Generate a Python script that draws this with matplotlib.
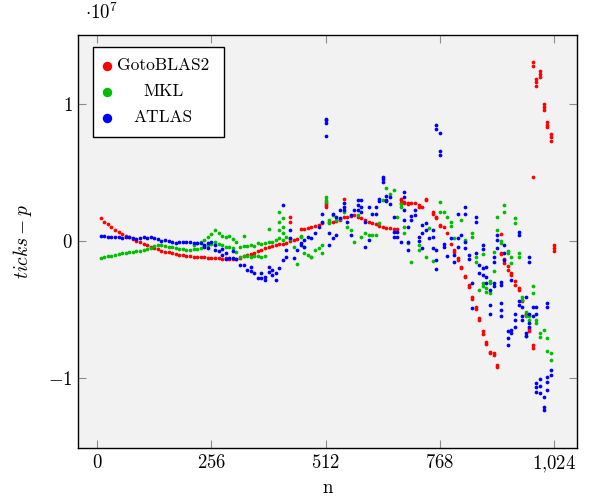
import matplotlib
matplotlib.use("Agg")
import matplotlib.pyplot as plt
from matplotlib.patches import Rectangle

# Kernel timing deviation (ticks - p), in units of 1e7, for each BLAS library
goto_n = [
    8, 16, 24, 32, 40, 48, 56, 64, 72, 80, 88, 96, 104, 112, 120, 128,
    136, 144, 152, 160, 168, 176, 184, 192, 200, 208, 216, 224, 232, 240, 248, 256,
    264, 272, 280, 288, 296, 304, 312, 320, 328, 336, 344, 352, 360, 368, 376, 384,
    392, 400, 408, 416, 424, 432, 432, 432, 440, 448,
    456, 464, 472, 480, 488, 496, 504, 512, 512, 512,
    520, 528, 536, 544, 552, 552, 560, 568, 576, 584, 592, 600, 608, 616, 624, 632,
    640, 648, 656, 664, 672, 680, 680, 680, 688, 688, 696, 696, 704, 712, 720, 720, 728, 736, 736,
    752, 752, 760, 760, 768, 768, 776, 784, 792, 800, 800, 808, 808, 816, 816, 824, 824,
    832, 832, 840, 840, 848, 848, 856, 856, 864, 864, 872, 872, 880, 880, 888, 888, 896, 896,
    904, 904, 904, 912, 912, 920, 920, 928, 928, 936, 936, 944, 944, 952, 952, 960, 960,
    968, 968, 976, 976, 976, 976, 976, 984, 984, 984, 992, 992, 992, 1000, 1000, 1000,
    1008, 1008, 1008, 1016, 1016, 1016, 1024, 1024, 1024,
]
goto_y = [
    0.166, 0.141, 0.122, 0.102, 0.083, 0.063, 0.051, 0.036, 0.027, 0.012, 0.002, -0.010, -0.022, -0.029, -0.041, -0.053,
    -0.061, -0.071, -0.078, -0.083, -0.090, -0.095, -0.100, -0.104, -0.107, -0.110, -0.115, -0.116, -0.119, -0.120, -0.122, -0.124,
    -0.125, -0.127, -0.128, -0.127, -0.129, -0.130, -0.128, -0.124, -0.112, -0.100, -0.092, -0.085, -0.074, -0.062, -0.050, -0.041,
    -0.036, -0.029, -0.024, -0.020, -0.012, -0.003, 0.175, 0.140, 0.004, 0.015,
    0.090, 0.086, 0.097, 0.104, 0.109, 0.117, 0.129, 0.245, 0.265, 0.280,
    0.141, 0.136, 0.146, 0.153, 0.178, 0.310, 0.173, 0.182, 0.190, 0.178, 0.166, 0.153, 0.141, 0.134, 0.124, 0.109,
    0.100, 0.093, 0.093, 0.085, 0.090, 0.280, 0.300, 0.310, 0.285, 0.275, 0.280, 0.270, 0.280, 0.280, 0.260, 0.250, 0.250, 0.310, 0.300,
    0.210, 0.200, 0.175, 0.165, 0.120, 0.110, 0.100, 0.060, -0.020, -0.066, -0.080, -0.127, -0.140, -0.187, -0.200, -0.253, -0.265,
    -0.320, -0.335, -0.410, -0.425, -0.480, -0.495, -0.560, -0.575, -0.660, -0.680, -0.735, -0.750, -0.810, -0.820, -0.815, -0.830, -0.920, -0.905,
    0.050, -0.085, -0.095, -0.130, -0.160, -0.180, -0.210, -0.230, -0.250, -0.290, -0.320, -0.340, -0.360, -0.440, -0.430, -0.540, -0.530,
    -0.660, -0.640, -0.760, -0.780, 1.310, 1.280, 0.470, 1.160, 1.130, 1.180, 1.220, 1.200, 1.240, 0.980, 0.960, 1.000,
    0.850, 0.830, 0.870, 0.760, 0.730, 0.780, -0.050, -0.030, -0.070,
]

mkl_n = [
    8, 16, 24, 32, 40, 48, 56, 64, 72, 80, 88, 96, 104, 112, 120, 128,
    136, 144, 152, 160, 168, 176, 184, 192, 200, 208, 216, 216, 224, 224, 232, 232, 240, 240,
    248, 248, 256, 256, 264, 264, 272, 272, 280, 280, 288, 288, 296, 296, 304, 304, 312, 312,
    320, 320, 328, 328, 328, 336, 336, 344, 344, 352, 352, 360, 360, 368, 368, 376, 376,
    384, 384, 392, 400, 408, 408, 408, 408, 416, 416, 416, 416, 424, 432, 440, 448,
    456, 456, 464, 464, 472, 480, 480, 488, 496, 504, 504, 512, 512, 512,
    520, 520, 528, 536, 544, 552, 560, 568, 576, 584, 592, 600, 608, 616, 624, 632,
    640, 648, 656, 664, 672, 680, 680, 688, 688, 696, 704, 720, 720, 736, 744,
    752, 768, 768, 776, 784, 792, 792, 800, 816, 824, 840, 840, 848, 848, 856,
    864, 864, 864, 872, 872, 880, 880, 880, 888, 888, 896, 896, 904, 904, 912, 912,
    920, 920, 928, 928, 936, 936, 944, 944, 952, 952, 960, 960, 960, 968, 968,
    976, 976, 984, 984, 992, 992, 1000, 1008, 1008, 1016, 1016,
]
mkl_y = [
    -0.127, -0.119, -0.112, -0.107, -0.102, -0.095, -0.090, -0.085, -0.083, -0.078, -0.073, -0.072, -0.066, -0.058, -0.049, -0.036,
    -0.032, -0.032, -0.036, -0.041, -0.046, -0.053, -0.058, -0.061, -0.062, -0.066, -0.061, -0.030, -0.058, -0.017, -0.050, -0.005, -0.036, 0.007,
    -0.030, 0.027, -0.020, 0.051, -0.010, 0.078, -0.025, 0.061, -0.029, 0.036, -0.041, 0.027, -0.046, 0.036, -0.053, 0.017, -0.078, -0.007,
    -0.115, -0.041, -0.108, -0.036, 0.036, -0.107, -0.034, -0.115, -0.029, -0.107, -0.034, -0.110, -0.017, -0.115, -0.022, -0.107, -0.012,
    0.085, -0.010, -0.005, 0.007, 0.210, 0.140, 0.080, 0.020, 0.166, 0.104, 0.056, 0.007, 0.031, 0.012, -0.041, -0.170,
    0.036, 0.031, -0.090, -0.041, -0.100, -0.115, -0.119, -0.066, -0.053, -0.090, -0.029, 0.324, 0.300, 0.287,
    0.153, 0.134, 0.190, 0.153, 0.158, 0.214, 0.104, 0.080, -0.005, 0.190, 0.031, 0.056, 0.044, 0.044, 0.044, 0.129,
    0.300, 0.385, 0.340, 0.372, 0.178, 0.250, 0.270, 0.104, 0.056, -0.017, -0.151, -0.029, -0.066, -0.115, 0.093,
    -0.144, 0.287, 0.214, 0.214, 0.178, 0.141, 0.109, 0.024, 0.153, 0.007, 0.056, 0.030, -0.120, -0.150, -0.360,
    -0.330, -0.310, -0.095, -0.340, -0.370, -0.290, -0.310, -0.380, -0.220, -0.078, 0.178, 0.080, 0.000, -0.015, 0.210, 0.260,
    -0.070, -0.090, -0.120, -0.160, 0.130, 0.170, -0.090, -0.120, -0.410, -0.430, -0.520, -0.550, -0.690, -0.550, -0.580,
    -0.330, -0.380, -0.580, -0.600, -0.670, -0.700, -0.650, -0.710, -0.800, -0.820, -0.870,
]

atlas_n = [
    8, 16, 24, 32, 40, 48, 56, 64, 72, 80, 88, 96, 104, 112, 120, 128,
    136, 144, 152, 160, 168, 176, 184, 192, 200, 208, 216, 224, 232, 240, 240, 248,
    248, 256, 264, 264, 272, 280, 280, 288, 288, 296, 304, 304, 312, 320, 328,
    336, 344, 344, 352, 360, 368, 368, 376, 376, 384, 384, 392, 392, 400, 400, 408,
    416, 416, 424, 424, 432, 432, 440, 448, 456, 456, 464, 464, 472, 480, 488, 496,
    504, 504, 512, 512, 512, 512, 520, 520, 528, 528, 536, 536, 544, 544, 552, 552, 552,
    560, 568, 568, 576, 584, 584, 584, 592, 592, 592, 600, 600, 608, 608, 616, 624, 624,
    632, 632, 640, 640, 640, 648, 648, 648, 656, 656, 664, 664, 664, 672, 672, 680,
    688, 688, 688, 688, 696, 696, 696, 704, 704, 712, 712, 720, 720, 728, 728, 728,
    736, 736, 744, 752, 752, 752, 760, 760, 760, 760, 760, 768, 768, 768, 776, 776,
    784, 792, 800, 800, 808, 808, 808, 816, 824, 824, 824, 824, 832, 832, 840, 840,
    848, 848, 848, 856, 856, 864, 864, 864, 864, 872, 872, 872, 880, 880, 880,
    888, 888, 888, 888, 896, 896, 896, 904, 904, 904, 904, 904, 912, 912, 912,
    920, 920, 920, 928, 928, 928, 936, 936, 936, 944, 944, 944, 944, 952, 952, 952,
    960, 960, 960, 968, 968, 968, 968, 968, 976, 976,
    984, 984, 984, 984, 984, 992, 992, 992, 1000, 1000, 1000, 1008, 1008, 1008, 1008, 1008, 1016, 1016,
]
atlas_y = [
    0.036, 0.036, 0.031, 0.031, 0.027, 0.027, 0.024, 0.027, 0.027, 0.024, 0.017, 0.020, 0.027, 0.024, 0.027, 0.022,
    0.012, 0.002, 0.004, 0.000, -0.007, -0.012, -0.007, -0.005, -0.005, -0.010, -0.017, -0.012, -0.017, -0.029, -0.041, -0.017,
    -0.053, -0.005, -0.029, -0.066, -0.070, -0.100, -0.060, -0.090, -0.130, -0.127, -0.127, -0.075, -0.134, -0.175, -0.175,
    -0.212, -0.219, -0.187, -0.236, -0.272, -0.236, -0.272, -0.260, -0.285, -0.187, -0.224, -0.212, -0.245, -0.236, -0.285, -0.200,
    -0.139, 0.263, -0.115, -0.066, 0.080, 0.020, -0.127, -0.066, -0.017, -0.029, 0.007, -0.041, 0.031, 0.020, 0.056, 0.104,
    0.141, 0.200, 0.880, 0.860, 0.890, 0.770, 0.056, -0.029, 0.200, 0.020, 0.044, 0.178, 0.226, 0.166, 0.280, 0.250, 0.230,
    0.141, 0.190, 0.044, 0.226, 0.300, 0.260, 0.230, 0.300, 0.250, 0.210, 0.141, -0.041, 0.250, 0.007, 0.200, 0.250, 0.200,
    0.310, 0.290, 0.470, 0.450, 0.430, 0.300, 0.330, 0.290, 0.320, 0.270, 0.178, 0.068, 0.030, 0.068, 0.030, -0.005,
    0.360, 0.320, 0.226, 0.153, -0.066, 0.104, -0.005, 0.180, 0.150, 0.226, 0.190, 0.030, 0.000, 0.117, 0.056, -0.053,
    0.130, 0.080, 0.020, 0.080, 0.030, -0.053, 0.850, 0.820, -0.066, -0.139, -0.207, 0.786, 0.660, 0.630, -0.020, -0.045,
    -0.107, 0.020, -0.100, -0.150, 0.200, 0.020, -0.045, 0.044, 0.250, 0.200, -0.010, -0.053, -0.100, -0.130, -0.309, -0.490,
    0.178, 0.140, -0.090, -0.175, -0.236, -0.200, -0.250, -0.030, -0.060, -0.190, -0.260, -0.309, -0.360, -0.470, -0.530,
    -0.115, -0.151, -0.310, -0.330, 0.044, 0.007, -0.053, -0.297, -0.320, -0.455, -0.500, -0.550, -0.029, -0.088, -0.139,
    -0.660, -0.710, -0.760, -0.650, -0.670, -0.285, -0.530, -0.580, -0.626, 0.068, 0.044, -0.440, -0.470, -0.480, -0.550, -0.580,
    -0.410, -0.670, -0.690, -0.115, -0.151, -0.600, -0.626, -0.530, -0.480, -0.550,
    -0.480, -0.530, -1.040, -1.064, -1.100, -1.010, -1.060, -1.110, -1.136, -1.210, -1.230, -0.455, -0.480, -0.990, -1.030, -1.090, -0.940, -0.980,
]

series = [
    ("GotoBLAS2", goto_n, goto_y, "#ff0000"),
    ("MKL", mkl_n, mkl_y, "#00bf00"),
    ("ATLAS", atlas_n, atlas_y, "#0000ff"),
]

x_ticks = [0, 256, 512, 768, 1024]
x_tick_labels = ["$0$", "$256$", "$512$", "$768$", "$1{,}024$"]
y_ticks = [-1, 0, 1]
y_tick_labels = ["$-1$", "$0$", "$1$"]

plt.rcParams["mathtext.fontset"] = "cm"
plt.rcParams["font.family"] = "serif"
plt.rcParams["font.serif"] = ["cmr10", "DejaVu Serif"]

fig = plt.figure(figsize=(5.92, 4.98), dpi=100)
ax = fig.add_axes([0.1318, 0.1004, 0.8429, 0.8293])
ax.set_facecolor("#f2f2f2")

for name, xs, ys, color in series:
    ax.plot(xs, ys, "o", ms=2.7, mew=0, color=color, zorder=3)

ax.set_xlim(-42.8, 1074.8)
ax.set_ylim(-1.511, 1.504)
ax.set_xticks(x_ticks)
ax.set_xticklabels(x_tick_labels)
ax.set_yticks(y_ticks)
ax.set_yticklabels(y_tick_labels)
ax.tick_params(direction="in", top=True, right=True, length=6, width=0.8,
               color="#8c8c8c", labelsize=13.5, pad=4)
for spine in ax.spines.values():
    spine.set_linewidth(1.0)
    spine.set_color("black")

ax.set_xlabel("n", fontsize=13.5, labelpad=3)
ax.set_ylabel(r"$ticks - p$", fontsize=14, labelpad=10)
ax.text(0.014, 1.03, r"$\cdot 10^{7}$", transform=ax.transAxes,
        ha="left", va="bottom", fontsize=13.5)

# legend box with centred entries
ax.add_patch(Rectangle((0.030, 0.753), 0.263, 0.218, transform=ax.transAxes,
                       facecolor="white", edgecolor="black", lw=1.0, zorder=5))
rows = [0.926, 0.863, 0.800]
for (name, xs, ys, color), yy in zip(series, rows):
    ax.plot([0.0575], [yy], "o", ms=6.8, mew=0, color=color,
            transform=ax.transAxes, zorder=6)
    ax.text(0.171, yy, name, transform=ax.transAxes, ha="center",
            va="center", fontsize=12.5, zorder=6)

fig.savefig("out.png", dpi=100)
